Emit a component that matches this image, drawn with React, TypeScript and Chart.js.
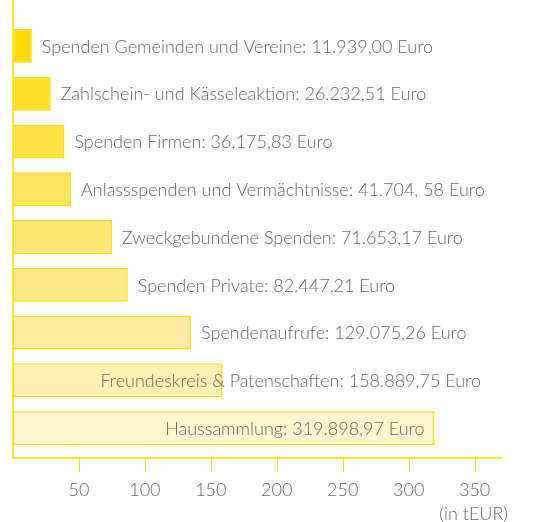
import React, { useEffect, useRef } from "react";
import { Chart, registerables } from "chart.js";

Chart.register(...registerables);

const categories = [
  "Spenden Gemeinden und Vereine",
  "Zahlschein- und Kässeleaktion",
  "Spenden Firmen",
  "Anlassspenden und Vermächtnisse",
  "Zweckgebundene Spenden",
  "Spenden Private",
  "Spendenaufrufe",
  "Freundeskreis & Patenschaften",
  "Haussammlung",
];
// bar lengths as drawn in the picture (tEUR)
const values = [14.3, 28.6, 39, 44, 75, 87, 135, 158.8, 319.6];
const amountLabels = [
  "11.939,00 Euro",
  "26.232,51 Euro",
  "36.175,83 Euro",
  "41.704, 58 Euro",
  "71.653,17 Euro",
  "82.447,21 Euro",
  "129.075,26 Euro",
  "158.889,75 Euro",
  "319.898,97 Euro",
];
const barColors = [
  "#FFDA00",
  "#FFDE28",
  "#FFE143",
  "#FFE358",
  "#FFE672",
  "#FFE985",
  "#FFEC9C",
  "#FFF0B4",
  "#FFF5CF",
];
const tickValues = [50, 100, 150, 200, 250, 300, 350];
const unitLabel = "(in tEUR)";

const FONT = "Lato, 'Noto Sans', sans-serif";
const TEXT = "#666666";
const AXIS = "#FFDD00";
const FS = 18;

const overlayPlugin = {
  id: "overlay",
  afterDatasetsDraw(chart: any) {
    const { ctx, chartArea } = chart;
    const xs = chart.scales.x;
    const meta = chart.getDatasetMeta(0);
    ctx.save();
    ctx.font = `300 ${FS}px ${FONT}`;
    ctx.fillStyle = TEXT;
    ctx.textBaseline = "middle";
    meta.data.forEach((bar: any, i: number) => {
      const text = `${categories[i]}: ${amountLabels[i]}`;
      const w = ctx.measureText(text).width;
      const left = chartArea.left;
      const end = bar.x;
      if (end + 10 + w <= chartArea.right + 6) {
        ctx.textAlign = "left";
        ctx.fillText(text, end + 10, bar.y + 1);
      } else if (end - left > w + 20) {
        ctx.textAlign = "right";
        ctx.fillText(text, end - 10, bar.y + 1);
      } else {
        ctx.textAlign = "right";
        ctx.fillText(text, chartArea.right - 20, bar.y + 1);
      }
    });
    // axes
    const axisY = chartArea.bottom + 6;
    ctx.strokeStyle = AXIS;
    ctx.lineWidth = 1.5;
    ctx.beginPath();
    ctx.moveTo(chartArea.left, 0);
    ctx.lineTo(chartArea.left, axisY);
    ctx.lineTo(chartArea.right + 1, axisY);
    ctx.stroke();
    ctx.lineWidth = 1;
    tickValues.forEach((v) => {
      const px = Math.round(xs.getPixelForValue(v)) + 0.5;
      ctx.beginPath();
      ctx.moveTo(px, axisY);
      ctx.lineTo(px, axisY + 14);
      ctx.stroke();
    });
    ctx.textAlign = "right";
    ctx.fillStyle = TEXT;
    ctx.font = `300 ${FS}px ${FONT}`;
    ctx.fillText(unitLabel, chartArea.right + 7, axisY + 56);
    ctx.restore();
  },
};

export default function App() {
  const ref = useRef<HTMLCanvasElement | null>(null);
  useEffect(() => {
    if (!ref.current) return;
    const chart = new Chart(ref.current, {
      type: "bar",
      data: {
        labels: categories,
        datasets: [
          {
            data: values,
            backgroundColor: barColors,
            borderColor: AXIS,
            borderWidth: 1.5,
            borderSkipped: false,
            categoryPercentage: 1,
            barPercentage: 0.71,
          },
        ],
      },
      options: {
        indexAxis: "y",
        animation: false,
        responsive: false,
        maintainAspectRatio: false,
        layout: { padding: { left: 13, right: 45, top: 22, bottom: 0 } },
        plugins: { legend: { display: false }, tooltip: { enabled: false } },
        scales: {
          y: { display: false },
          x: {
            min: 0,
            max: 370,
            afterBuildTicks: (s: any) => {
              s.ticks = tickValues.map((v) => ({ value: v }));
            },
            afterFit: (s: any) => {
              s.height = 70;
            },
            grid: { display: false, drawTicks: false },
            border: { display: false },
            ticks: {
              padding: 27,
              maxRotation: 0,
              color: TEXT,
              font: { family: FONT, size: FS, weight: "300" as any },
            },
          },
        },
      },
      plugins: [overlayPlugin],
    });
    return () => chart.destroy();
  }, []);
  return (
    <div style={{ position: "absolute", left: 0, top: 0, width: 546, height: 522, background: "#fff" }}>
      <canvas ref={ref} width={546} height={522} />
    </div>
  );
}
